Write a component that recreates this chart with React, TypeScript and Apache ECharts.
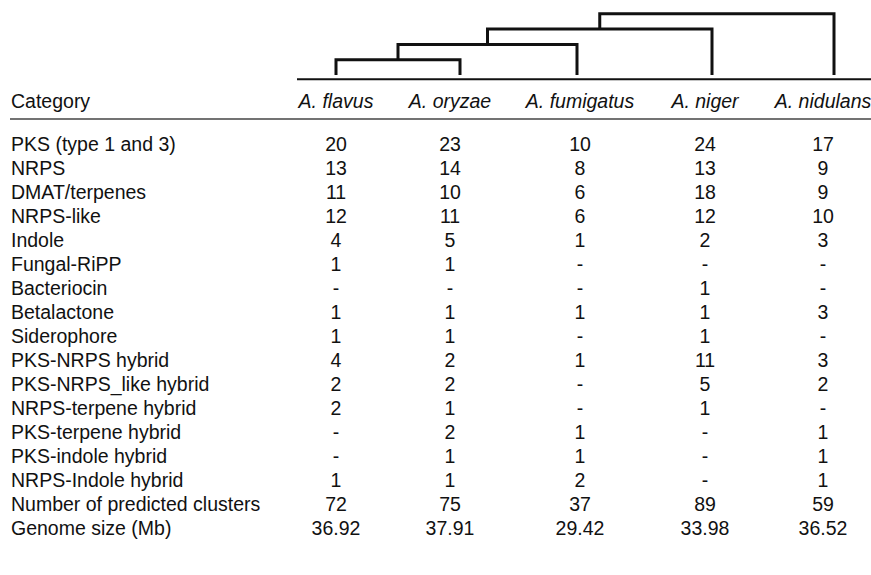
import React, { useEffect, useRef } from "react";
import * as echarts from "echarts";

// ---------- data ----------
const species = ["A. flavus", "A. oryzae", "A. fumigatus", "A. niger", "A. nidulans"];

const categories = [
  "PKS (type 1 and 3)",
  "NRPS",
  "DMAT/terpenes",
  "NRPS-like",
  "Indole",
  "Fungal-RiPP",
  "Bacteriocin",
  "Betalactone",
  "Siderophore",
  "PKS-NRPS hybrid",
  "PKS-NRPS_like hybrid",
  "NRPS-terpene hybrid",
  "PKS-terpene hybrid",
  "PKS-indole hybrid",
  "NRPS-Indole hybrid",
];

// null = "-" (none predicted)
const flavusCounts = [20, 13, 11, 12, 4, 1, null, 1, 1, 4, 2, 2, null, null, 1];
const oryzaeCounts = [23, 14, 10, 11, 5, 1, null, 1, 1, 2, 2, 1, 2, 1, 1];
const fumigatusCounts = [10, 8, 6, 6, 1, null, null, 1, null, 1, null, null, 1, 1, 2];
const nigerCounts = [24, 13, 18, 12, 2, null, 1, 1, 1, 11, 5, 1, null, null, null];
const nidulansCounts = [17, 9, 9, 10, 3, null, null, 3, null, 3, 2, null, 1, 1, 1];

const predictedClusters = [72, 75, 37, 89, 59];
const genomeSizeMb = [36.92, 37.91, 29.42, 33.98, 36.52];

// dendrogram: [childA, childB, level]; leaves are 0..4, merged nodes get 5, 6, ...
const dendroMerges = [
  [0, 1, 1],
  [5, 2, 2],
  [6, 3, 3],
  [7, 4, 4],
];

// ---------- layout ----------
const W = 871;
const H = 575;
const FONT = "'Liberation Sans', Arial, Helvetica, sans-serif";
const FS = 19.5;
const INK = "#111111";
const COL_X = [336, 450, 580, 705, 823];
const LEAF_X = [336, 460, 577, 712, 834];
const ROW_H = 24;
const TABLE_TOP = 132;
const HEADER_Y = 100.5;

export default function App() {
  const ref = useRef<HTMLDivElement>(null);

  useEffect(() => {
    if (!ref.current) return;
    const chart = echarts.init(ref.current, undefined, { renderer: "svg" });

    const columns = [flavusCounts, oryzaeCounts, fumigatusCounts, nigerCounts, nidulansCounts];
    const rowLabels = [...categories, "Number of predicted clusters", "Genome size (Mb)"];

    const cellText: string[] = [];
    const cellData: number[][] = [];
    rowLabels.forEach((_, i) => {
      columns.forEach((col, j) => {
        let t: string;
        if (i < categories.length) {
          const v = col[i];
          t = v == null ? "-" : String(v);
        } else if (i === categories.length) {
          t = String(predictedClusters[j]);
        } else {
          t = genomeSizeMb[j].toFixed(2);
        }
        cellText.push(t);
        cellData.push([COL_X[j], i]);
      });
    });

    // dendrogram nodes
    const nodeX: number[] = [...LEAF_X];
    const nodeH: number[] = LEAF_X.map(() => 0);
    const dendroData: number[][] = [];
    dendroMerges.forEach(([a, b, lvl]) => {
      dendroData.push([nodeX[a], nodeX[b], lvl, nodeH[a], nodeH[b]]);
      nodeX.push((nodeX[a] + nodeX[b]) / 2);
      nodeH.push(lvl);
    });

    const option: any = {
      animation: false,
      backgroundColor: "#ffffff",
      grid: [
        { left: 0, top: TABLE_TOP, width: W, height: ROW_H * rowLabels.length },
        { left: 0, top: 0, width: W, height: 75 },
      ],
      xAxis: [
        { type: "value", gridIndex: 0, min: 0, max: W, show: false },
        { type: "value", gridIndex: 1, min: 0, max: W, show: false },
      ],
      yAxis: [
        {
          type: "category",
          gridIndex: 0,
          data: rowLabels,
          inverse: true,
          axisLine: { show: false },
          axisTick: { show: false },
          splitLine: { show: false },
          axisLabel: {
            inside: true,
            margin: 11,
            fontSize: FS,
            fontFamily: FONT,
            color: INK,
            interval: 0,
          },
        },
        { type: "value", gridIndex: 1, min: 0, max: 4.9, show: false },
      ],
      series: [
        {
          type: "custom",
          name: "table",
          xAxisIndex: 0,
          yAxisIndex: 0,
          data: cellData,
          encode: { x: 0, y: 1 },
          renderItem: (params: any, api: any) => {
            const p = api.coord([api.value(0), api.value(1)]);
            return {
              type: "text",
              x: p[0],
              y: p[1],
              style: {
                text: cellText[params.dataIndex],
                fill: INK,
                fontSize: FS,
                fontFamily: FONT,
                align: "center",
                verticalAlign: "middle",
              },
            };
          },
        },
        {
          type: "custom",
          name: "dendrogram",
          xAxisIndex: 1,
          yAxisIndex: 1,
          data: dendroData,
          encode: { x: [0, 1], y: [2, 3, 4] },
          renderItem: (params: any, api: any) => {
            const x1 = api.value(0);
            const x2 = api.value(1);
            const h = api.value(2);
            const h1 = api.value(3);
            const h2 = api.value(4);
            const pts = [
              api.coord([x1, h1]),
              api.coord([x1, h]),
              api.coord([x2, h]),
              api.coord([x2, h2]),
            ];
            return {
              type: "polyline",
              shape: { points: pts },
              style: { stroke: INK, lineWidth: 3, fill: "none", lineJoin: "miter" },
            };
          },
        },
      ],
      graphic: [
        {
          type: "line",
          shape: { x1: 297, y1: 79.3, x2: W, y2: 79.3 },
          style: { stroke: INK, lineWidth: 2 },
        },
        {
          type: "line",
          shape: { x1: 10, y1: 119, x2: W, y2: 119 },
          style: { stroke: "#444444", lineWidth: 1.3 },
        },
        {
          type: "text",
          x: 11,
          y: HEADER_Y,
          style: {
            text: "Category",
            fill: INK,
            fontSize: FS,
            fontFamily: FONT,
            align: "left",
            verticalAlign: "middle",
          },
        },
        ...species.map((s, j) => ({
          type: "text",
          x: COL_X[j],
          y: HEADER_Y,
          style: {
            text: s,
            fill: INK,
            fontSize: FS,
            fontStyle: "italic",
            fontFamily: FONT,
            align: "center",
            verticalAlign: "middle",
          },
        })),
      ],
    };

    chart.setOption(option);
    return () => chart.dispose();
  }, []);

  return (
    <div
      ref={ref}
      style={{ position: "fixed", left: 0, top: 0, width: W, height: H, background: "#fff" }}
    />
  );
}
